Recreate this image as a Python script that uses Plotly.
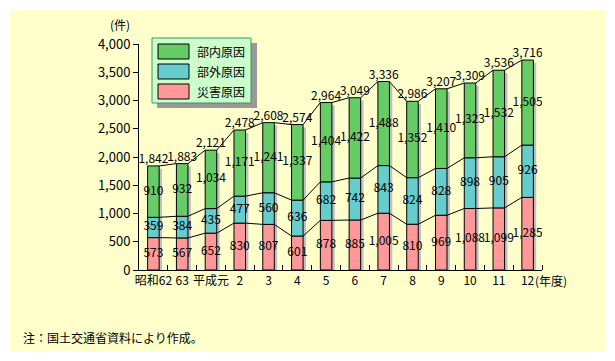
import plotly.graph_objects as go

# ---- data ----
categories = ["昭和62", "63", "平成元", "2", "3", "4", "5", "6", "7", "8", "9", "10", "11", "12"]
disaster = [573, 567, 652, 830, 807, 601, 878, 885, 1005, 810, 969, 1088, 1099, 1285]   # 災害原因
external = [359, 384, 435, 477, 560, 636, 682, 742, 843, 824, 828, 898, 905, 926]       # 部外原因
internal = [910, 932, 1034, 1171, 1241, 1337, 1404, 1422, 1488, 1352, 1410, 1323, 1532, 1505]  # 部内原因
series_names = ["部内原因", "部外原因", "災害原因"]
y_ticks = [0, 500, 1000, 1500, 2000, 2500, 3000, 3500, 4000]

# ---- style ----
W, H = 615, 361
PL, PR, PT, PB = 139, 542, 44, 270
C_GREEN, C_CYAN, C_PINK = "#66CC66", "#66CCCC", "#FF9999"
CREAM = "#FFFFCC"
FONT = "Noto Sans CJK JP"
BW = 0.4

def px(x):
    return (x - PL) / (PR - PL)

def py(y):
    return (PB - y) / (PB - PT)

n = len(categories)
xs = list(range(n))
cum1 = disaster
cum2 = [a + b for a, b in zip(disaster, external)]
total = [a + b for a, b in zip(cum2, internal)]

fig = go.Figure()

# shadows
fig.add_trace(go.Bar(x=[i + 0.1 for i in xs], y=[t - 50 for t in total], base=0, width=BW,
                     marker=dict(color="#C0C0C0", line=dict(width=0)), showlegend=False, hoverinfo="skip"))
# stacked segments (explicit bases)
for vals, base, col in [(disaster, [0] * n, C_PINK), (external, cum1, C_CYAN), (internal, cum2, C_GREEN)]:
    fig.add_trace(go.Bar(x=xs, y=vals, base=base, width=BW,
                         marker=dict(color=col, line=dict(color="black", width=1)),
                         showlegend=False))

# connecting lines
for level in (cum1, cum2, total):
    lx, ly = [], []
    for i in range(n - 1):
        lx += [i + BW / 2, i + 1 - BW / 2, None]
        ly += [level[i], level[i + 1], None]
    fig.add_trace(go.Scatter(x=lx, y=ly, mode="lines", line=dict(color="black", width=1),
                             showlegend=False, hoverinfo="skip"))

# segment labels
for vals, base in [(disaster, [0] * n), (external, cum1), (internal, cum2)]:
    fig.add_trace(go.Scatter(x=xs, y=[b + v / 2 for v, b in zip(vals, base)], mode="text",
                             text=[f"{v:,}" for v in vals], textposition="middle center",
                             textfont=dict(family=FONT, size=12, color="black"),
                             showlegend=False, hoverinfo="skip"))
# totals
fig.add_trace(go.Scatter(x=xs, y=total, mode="text", text=[f"{v:,}" for v in total],
                         textposition="top center", textfont=dict(family=FONT, size=12, color="black"),
                         showlegend=False, hoverinfo="skip"))

shapes = [
    dict(type="rect", xref="paper", yref="paper", x0=px(10), x1=px(605), y0=py(351), y1=py(10),
         fillcolor=CREAM, line=dict(width=0), layer="below"),
    # legend shadow and box
    dict(type="rect", xref="paper", yref="paper", x0=px(157), x1=px(257), y0=py(108), y1=py(43),
         fillcolor="#999999", line=dict(width=0)),
    dict(type="rect", xref="paper", yref="paper", x0=px(152), x1=px(251), y0=py(103), y1=py(38),
         fillcolor="#CCFFCC", line=dict(color="#339966", width=1)),
]
annotations = []
for k, (name, col) in enumerate(zip(series_names, [C_GREEN, C_CYAN, C_PINK])):
    yc = 51.5 + 20 * k
    shapes.append(dict(type="rect", xref="paper", yref="paper", x0=px(158), x1=px(189),
                       y0=py(yc + 7.5), y1=py(yc - 7.5), fillcolor=col, line=dict(color="black", width=1)))
    annotations.append(dict(xref="paper", yref="paper", x=px(195), y=py(yc), text=name, showarrow=False,
                            xanchor="left", yanchor="middle", font=dict(family=FONT, size=12, color="black")))

annotations += [
    dict(xref="paper", yref="paper", x=px(120), y=py(25), text="(件)", showarrow=False,
         xanchor="center", yanchor="middle", font=dict(family=FONT, size=12, color="black")),
    dict(xref="x", yref="paper", x=13.2, y=py(280), text="(年度)", showarrow=False,
         xanchor="left", yanchor="middle", font=dict(family=FONT, size=12, color="black")),
    dict(xref="paper", yref="paper", x=px(21), y=py(337), text="注：国土交通省資料により作成。", showarrow=False,
         xanchor="left", yanchor="middle", font=dict(family=FONT, size=12, color="black")),
]

fig.update_layout(
    width=W, height=H, barmode="overlay",
    margin=dict(l=PL, r=W - PR, t=PT, b=H - PB),
    paper_bgcolor="white", plot_bgcolor=CREAM,
    shapes=shapes, annotations=annotations,
    font=dict(family=FONT, size=13, color="black"),
    xaxis=dict(range=[-0.5, n - 0.5], tickvals=xs, ticktext=categories, ticks="",
               tickangle=0, automargin=False,
               showline=True, linecolor="black", linewidth=1, showgrid=False, zeroline=False,
               tickfont=dict(family=FONT, size=12),
               minor=dict(tickvals=[i + 0.5 for i in xs], ticks="inside", ticklen=5,
                          tickcolor="black", showgrid=False)),
    yaxis=dict(range=[0, 4000], tickvals=y_ticks, tickformat=",", ticks="outside", ticklen=5,
               automargin=False,
               tickcolor="black", showline=True, linecolor="black", linewidth=1,
               showgrid=False, zeroline=False, tickfont=dict(family=FONT, size=13)),
)

fig.write_html("out.html", config={"displayModeBar": False},
               post_script="document.body.style.margin='0';")
